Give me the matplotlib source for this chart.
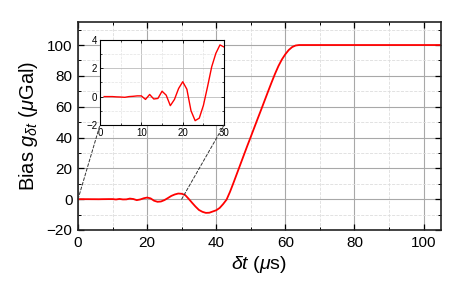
import matplotlib
matplotlib.use("Agg")
import matplotlib.pyplot as plt
from matplotlib.patches import ConnectionPatch
from matplotlib.ticker import MultipleLocator

plt.rcParams["font.family"] = ["Liberation Sans", "DejaVu Sans"]
plt.rcParams["mathtext.fontset"] = "custom"
plt.rcParams["mathtext.rm"] = "Liberation Sans"
plt.rcParams["mathtext.it"] = "Liberation Sans:italic"

# Bias vs delta t (1 us steps)
t_us = list(range(0, 65)) + [105]
bias = [0, 0, 0, 0, -0.02, -0.03, -0.05, 0, 0.02, 0.05,
        0.05, -0.2, 0.15, -0.17, -0.13, 0.38, 0.1, -0.64, -0.2, 0.57,
        1.05, 0.52, -1.0, -1.7, -1.52, -0.62, 0.7, 2.1, 3.05, 3.65,
        3.5, 2.7, 0.3, -2.3, -4.8, -7.0, -8.2, -8.9, -8.8, -8.0,
        -7.2, -5.7, -3.2, -0.3, 4.8, 10.6, 16.6, 22.6, 28.6, 34.6,
        40.4, 46.3, 52.2, 58.0, 63.9, 69.8, 75.6, 81.2, 86.3, 90.6,
        94.0, 96.8, 98.7, 99.7, 100.0, 100.0]

# inset: first 30 us
t_zoom = t_us[1:31]
bias_zoom = bias[1:31]

fig = plt.figure(figsize=(4.63, 2.96), dpi=100)
ax = fig.add_axes([0.1685, 0.223, 0.7835, 0.703])

ax.plot(t_us, bias, color="red", lw=1.3)
ax.set_xlim(0, 105)
ax.set_ylim(-20, 115)
ax.xaxis.set_major_locator(MultipleLocator(20))
ax.xaxis.set_minor_locator(MultipleLocator(10))
ax.yaxis.set_major_locator(MultipleLocator(20))
ax.yaxis.set_minor_locator(MultipleLocator(10))
ax.set_yticks([-20, 0, 20, 40, 60, 80, 100])
ax.grid(which="major", color="#a8a8a8", lw=0.8)
ax.grid(which="minor", color="#dddddd", lw=0.6, ls="--")
ax.tick_params(which="both", direction="in", top=True, right=True, labelsize=11, pad=4)
ax.tick_params(which="major", length=4, width=0.9)
ax.tick_params(which="minor", length=2.5, width=0.7)
for s in ax.spines.values():
    s.set_linewidth(1.2)
    s.set_color("#222222")
ax.set_xlabel(r"$\delta t$ ($\mu$s)", fontsize=14, labelpad=3)
ax.set_ylabel(r"Bias $g_{\delta t}$ ($\mu$Gal)", fontsize=14.5, labelpad=5)

# inset
axi = fig.add_axes([0.216, 0.578, 0.268, 0.287])
axi.plot(t_zoom, bias_zoom, color="red", lw=1.0)
axi.set_xlim(0, 30)
axi.set_ylim(-2, 4)
axi.set_xticks([0, 10, 20, 30])
axi.set_yticks([-2, 0, 2, 4])
axi.xaxis.set_minor_locator(MultipleLocator(5))
axi.yaxis.set_minor_locator(MultipleLocator(1))
axi.grid(which="major", color="#bbbbbb", lw=0.6)
axi.grid(which="minor", color="#e3e3e3", lw=0.5, ls="--")
axi.tick_params(which="both", direction="in", top=True, right=True, labelsize=7, pad=2)
axi.tick_params(which="major", length=2.5, width=0.6)
axi.tick_params(which="minor", length=1.5, width=0.5)
for s in axi.spines.values():
    s.set_linewidth(0.8)

# dashed connector lines from main (0,0), (30,0) to inset lower corners
for xc in [0, 30]:
    con = ConnectionPatch(xyA=(xc, 0), coordsA="data", axesA=ax,
                          xyB=(xc, -2), coordsB="data", axesB=axi,
                          color="#333333", lw=0.7, ls=(0, (3, 2)))
    fig.add_artist(con)

fig.savefig("out.png", dpi=100)
